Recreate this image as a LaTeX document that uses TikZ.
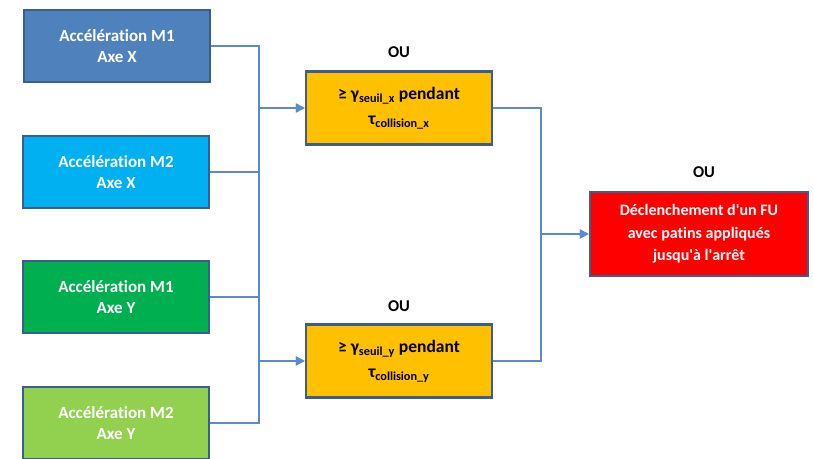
\documentclass[tikz,border=0pt]{standalone}
\usepackage{fontspec}
\setmainfont{Carlito}[Ligatures=NoCommon]
\usetikzlibrary{arrows.meta}
\definecolor{bordure}{HTML}{3A5F8F}
\definecolor{lienbleu}{HTML}{5B8BC9}
\definecolor{mUnX}{HTML}{4F81BD}
\definecolor{mDeuxX}{HTML}{00B0F0}
\definecolor{mUnY}{HTML}{00B050}
\definecolor{mDeuxY}{HTML}{92D050}
\definecolor{seuil}{HTML}{FFC000}
\definecolor{arret}{HTML}{FF0000}
\tikzset{
  boite/.style={draw=bordure, line width=2.5pt, align=center,
    font=\bfseries\fontsize{17}{21}\selectfont},
  accel/.style={boite, fill=#1, text=white, minimum width=186pt, minimum height=72pt},
  seuilbox/.style={boite, fill=seuil, text=black, minimum width=186pt, minimum height=73pt,
    font=\bfseries\fontsize{17.5}{25}\selectfont},
  fubox/.style={boite, fill=arret, text=white, minimum width=218pt, minimum height=84pt,
    font=\bfseries\fontsize{16}{22.5}\selectfont},
  ou/.style={font=\bfseries\fontsize{16.5}{18}\selectfont},
  lien/.style={draw=lienbleu, line width=1.4pt},
  fleche/.style={lien, -{Triangle[length=9pt,width=9pt]}}
}
\begin{document}
\begin{tikzpicture}[x=1pt,y=-1pt]
  \useasboundingbox (0,0) rectangle (813,458);
  % capteurs
  \node[accel=mUnX] (m1x) at (117,46) {Accélération M1\\Axe X};
  \node[accel=mDeuxX] (m2x) at (116,172) {Accélération M2\\Axe X};
  \node[accel=mUnY] (m1y) at (116,297) {Accélération M1\\Axe Y};
  \node[accel=mDeuxY] (m2y) at (116,423) {Accélération M2\\Axe Y};
  % seuils
  \node[seuilbox] (sx) at (399,108)
    {≥ γ\textsubscript{seuil\_x} pendant\\τ\textsubscript{collision\_x}};
  \node[seuilbox] (sy) at (399,361)
    {≥ γ\textsubscript{seuil\_y} pendant\\τ\textsubscript{collision\_y}};
  \node[fubox] (fu) at (699,234)
    {Déclenchement d\textquotesingle un FU\\avec patins appliqués\\jusqu\textquotesingle à l\textquotesingle arrêt};
  % portes OU
  \node[ou] (ousx) at (399,52) {OU};
  \node[ou] (ousy) at (399,306) {OU};
  \node[ou] (oufu) at (704,172) {OU};
  \coordinate (tg) at (259,0);
  \coordinate (td) at (541,0);
  \begin{scope}
    \draw[fleche] (m1x.east) -- (m1x.east -| tg) |- (sx.west);
    \draw[fleche] (m2x.east) -- (m2x.east -| tg) |- (sx.west);
    \draw[fleche] (m1y.east) -- (m1y.east -| tg) |- (sy.west);
    \draw[fleche] (m2y.east) -- (m2y.east -| tg) |- (sy.west);
    \draw[lien] (m2x.east -| tg) -- (m1y.east -| tg);
    \draw[fleche] (sx.east) -- (sx.east -| td) |- (fu.west);
    \draw[fleche] (sy.east) -- (sy.east -| td) |- (fu.west);
  \end{scope}
\end{tikzpicture}
\end{document}
